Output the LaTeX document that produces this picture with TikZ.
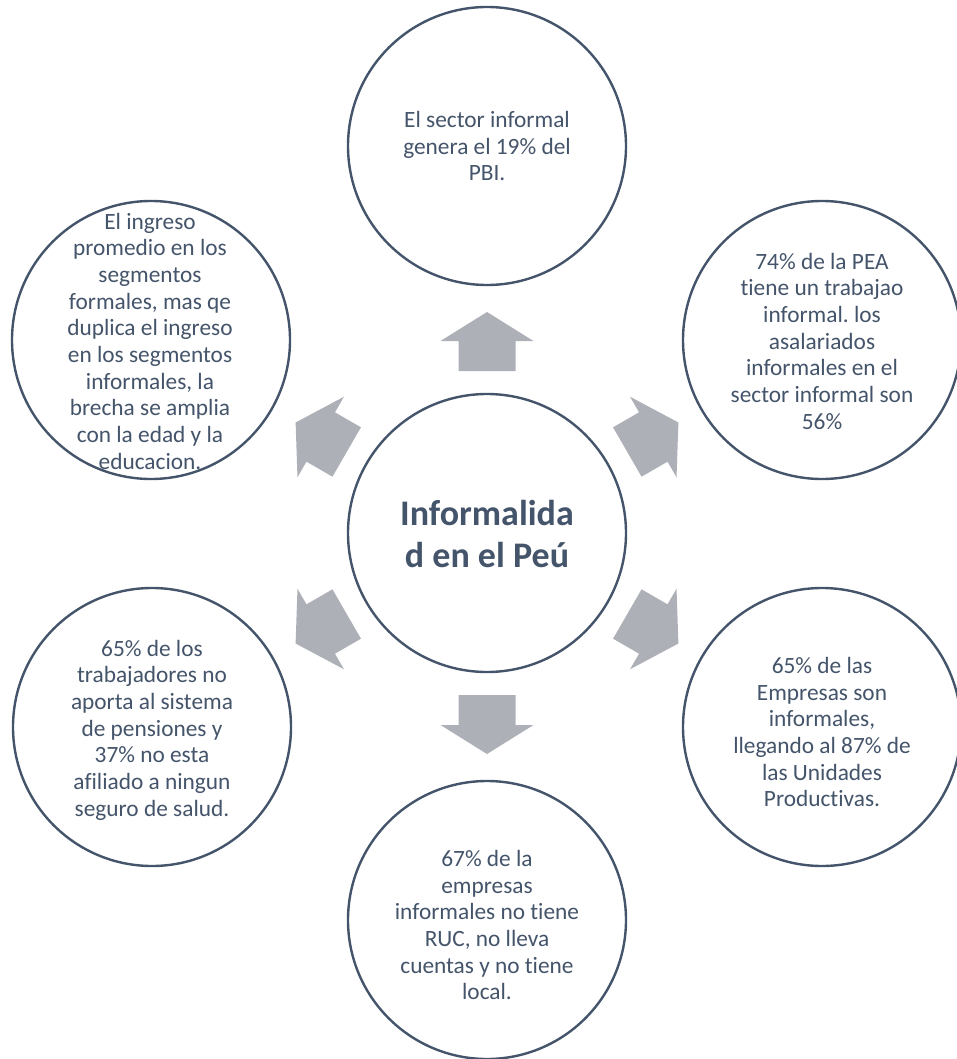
\documentclass[tikz,border=0pt]{standalone}
\usepackage{fontspec}
\setmainfont{Carlito}[Ligatures={NoCommon}]
\frenchspacing
\definecolor{slate}{HTML}{44546A}
\definecolor{arrowgray}{HTML}{AEB0B7}
\begin{document}
\begin{tikzpicture}[x=0.75pt,y=-0.75pt,
  bub/.style={circle, draw=slate, line width=1.8pt, fill=white, minimum size=208.5pt, inner sep=0pt},
  txt/.style={text=slate, align=center, font=\fontsize{17.5}{20}\selectfont, inner sep=0pt},
  hubtxt/.style={text=slate, align=center, font=\fontsize{27}{31.5}\selectfont\bfseries, inner sep=0pt},
  blockarrow/.style={fill=arrowgray}]
\useasboundingbox (0,0) rectangle (956,1059);
% hub
\node[bub] (hub) at (487,533) {};
\node[hubtxt] (hubtext) at (487,534) {Informalida\\d en el Peú};
% outer circles
\node[bub] (top) at (487,146) {};
\node[bub] (ur) at (822,340) {};
\node[bub] (lr) at (822,727) {};
\node[bub] (bot) at (487,920) {};
\node[bub] (ll) at (152,727) {};
\node[bub] (ul) at (151,340) {};
% texts
\node[txt] (toptext) at (487,146) {El sector informal\\genera el 19\% del\\PBI.};
\node[txt] (urtext) at (822,341) {74\% de la PEA\\tiene un trabajao\\informal. los\\asalariados\\informales en el\\sector informal son\\56\%};
\node[txt] (lrtext) at (822,732) {65\% de las\\Empresas son\\informales,\\llegando al 87\% de\\las Unidades\\Productivas.};
\node[txt] (bottext) at (487,925) {67\% de la\\empresas\\informales no tiene\\RUC, no lleva\\cuentas y no tiene\\local.};
\node[txt] (lltext) at (152,730) {65\% de los\\trabajadores no\\aporta al sistema\\de pensiones y\\37\% no esta\\afiliado a ningun\\seguro de salud.};
\node[txt] (ultext) at (150,341) {El ingreso\\promedio en los\\segmentos\\formales, mas qe\\duplica el ingreso\\en los segmentos\\informales, la\\brecha se amplia\\con la edad y la\\educacion.};
% block arrows
\foreach \a in {90,30,-30,-90,-150,150}{
  \fill[blockarrow, shift={(hub.center)}, rotate=\a]
    (162,-28.5) -- (192,-28.5) -- (192,-46.5) -- (221,0) -- (192,46.5) -- (192,28.5) -- (162,28.5) -- cycle;
}
\end{tikzpicture}
\end{document}
